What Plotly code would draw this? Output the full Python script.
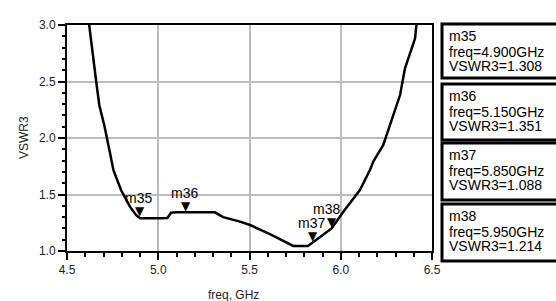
import plotly.graph_objects as go

# ---- data ----
freq = [4.620, 4.644, 4.660, 4.677, 4.704, 4.736, 4.754, 4.796, 4.845, 4.878,
        4.900, 5.010, 5.050, 5.070, 5.100, 5.310, 5.356, 5.448, 5.503, 5.612,
        5.740, 5.820, 5.850, 5.904, 5.950, 6.014, 6.050, 6.105, 6.160, 6.178,
        6.233, 6.270, 6.297, 6.325, 6.352, 6.380, 6.407, 6.416]
vswr = [3.020, 2.675, 2.500, 2.290, 2.115, 1.865, 1.717, 1.540, 1.392, 1.319,
        1.290, 1.290, 1.292, 1.338, 1.342, 1.342, 1.300, 1.260, 1.230, 1.150,
        1.045, 1.045, 1.080, 1.140, 1.200, 1.348, 1.420, 1.540, 1.717, 1.790,
        1.938, 2.115, 2.263, 2.380, 2.617, 2.760, 2.880, 3.020]

marker_names = ["m35", "m36", "m37", "m38"]
marker_freq = [4.900, 5.150, 5.850, 5.950]
marker_vswr = [1.308, 1.351, 1.088, 1.214]

x_ticks = [4.5, 5.0, 5.5, 6.0, 6.5]
x_tick_labels = ["4.5", "5.0", "5.5", "6.0", "6.5"]
y_ticks = [1.0, 1.5, 2.0, 2.5, 3.0]
y_tick_labels = ["1.0", "1.5", "2.0", "2.5", "3.0"]
minor_step = 0.1

# ---- layout geometry (pixels) ----
W, H = 556, 301
L, R, T, B = 67, 124, 25, 50
PW, PH = W - L - R, H - T - B


def px_x(px):
    return (px - L) / PW


def px_y(py):
    return (H - B - py) / PH


FONT = "Liberation Sans, Arial, sans-serif"

fig = go.Figure()
fig.add_trace(go.Scatter(x=freq, y=vswr, mode="lines",
                         line=dict(color="black", width=2.5),
                         showlegend=False, hoverinfo="skip"))

axis_common = dict(
    showgrid=True, gridcolor="#bdbdbd", gridwidth=2, griddash="solid",
    showline=True, linecolor="black", linewidth=2, mirror=True,
    ticks="outside", ticklen=7, tickwidth=2, tickcolor="black",
    tickfont=dict(family=FONT, size=12, color="#222"),
    zeroline=False, tickmode="array", layer="below traces",
)

fig.update_xaxes(range=[x_ticks[0], x_ticks[-1]], tickvals=x_ticks,
                 ticktext=x_tick_labels,
                 minor=dict(tick0=x_ticks[0], dtick=minor_step, ticks="outside",
                            ticklen=4, tickwidth=2, tickcolor="black", showgrid=False),
                 **axis_common)
fig.update_yaxes(range=[y_ticks[0], y_ticks[-1]], tickvals=y_ticks,
                 ticktext=y_tick_labels,
                 minor=dict(tick0=y_ticks[0], dtick=minor_step, ticks="outside",
                            ticklen=3, tickwidth=2, tickcolor="black", showgrid=False),
                 **axis_common)

annotations = []
label_xshift = [-2, -1, -2, -5]
for name, f, v, dx in zip(marker_names, marker_freq, marker_vswr, label_xshift):
    annotations.append(dict(x=f, y=v, xref="x", yref="y", text="▼", showarrow=False,
                            yanchor="bottom", yshift=-4,
                            font=dict(family="DejaVu Sans", size=12, color="black")))
    annotations.append(dict(x=f, y=v, xref="x", yref="y", text=name, showarrow=False,
                            yanchor="middle", yshift=18, xshift=dx,
                            font=dict(family=FONT, size=14, color="black")))

# axis titles
annotations.append(dict(x=px_x(233), y=px_y(295), xref="paper", yref="paper",
                        text="freq, GHz", showarrow=False, yanchor="middle",
                        font=dict(family=FONT, size=12, color="#222")))
annotations.append(dict(x=px_x(15), y=px_y(138), xref="paper", yref="paper",
                        text="VSWR3", showarrow=False, textangle=-90,
                        font=dict(family=FONT, size=12, color="#222")))

# marker readout boxes
shapes = []
box_top = [24, 84, 143, 204]
box_bot = [78, 140, 200, 261]
line_off = [12, 27.5, 42]
for name, f, v, t, b in zip(marker_names, marker_freq, marker_vswr, box_top, box_bot):
    shapes.append(dict(type="rect", xref="paper", yref="paper",
                       x0=px_x(442), x1=px_x(575), y0=px_y(b), y1=px_y(t),
                       line=dict(color="black", width=3), fillcolor="white", layer="above"))
    lines = [name, f"freq={f:.3f}GHz", f"VSWR3={v:.3f}"]
    for txt, off in zip(lines, line_off):
        annotations.append(dict(x=px_x(447), y=px_y(t + off), xref="paper", yref="paper",
                                text=txt, showarrow=False, xanchor="left", yanchor="middle",
                                font=dict(family=FONT, size=14, color="black")))

fig.update_layout(template="none", width=W, height=H, margin=dict(l=L, r=R, t=T, b=B),
                  paper_bgcolor="white", plot_bgcolor="white",
                  annotations=annotations, shapes=shapes, showlegend=False)

fig.write_html("out.html", config={"displayModeBar": False},
               post_script="document.body.style.margin='0';document.body.style.overflow='hidden';")
